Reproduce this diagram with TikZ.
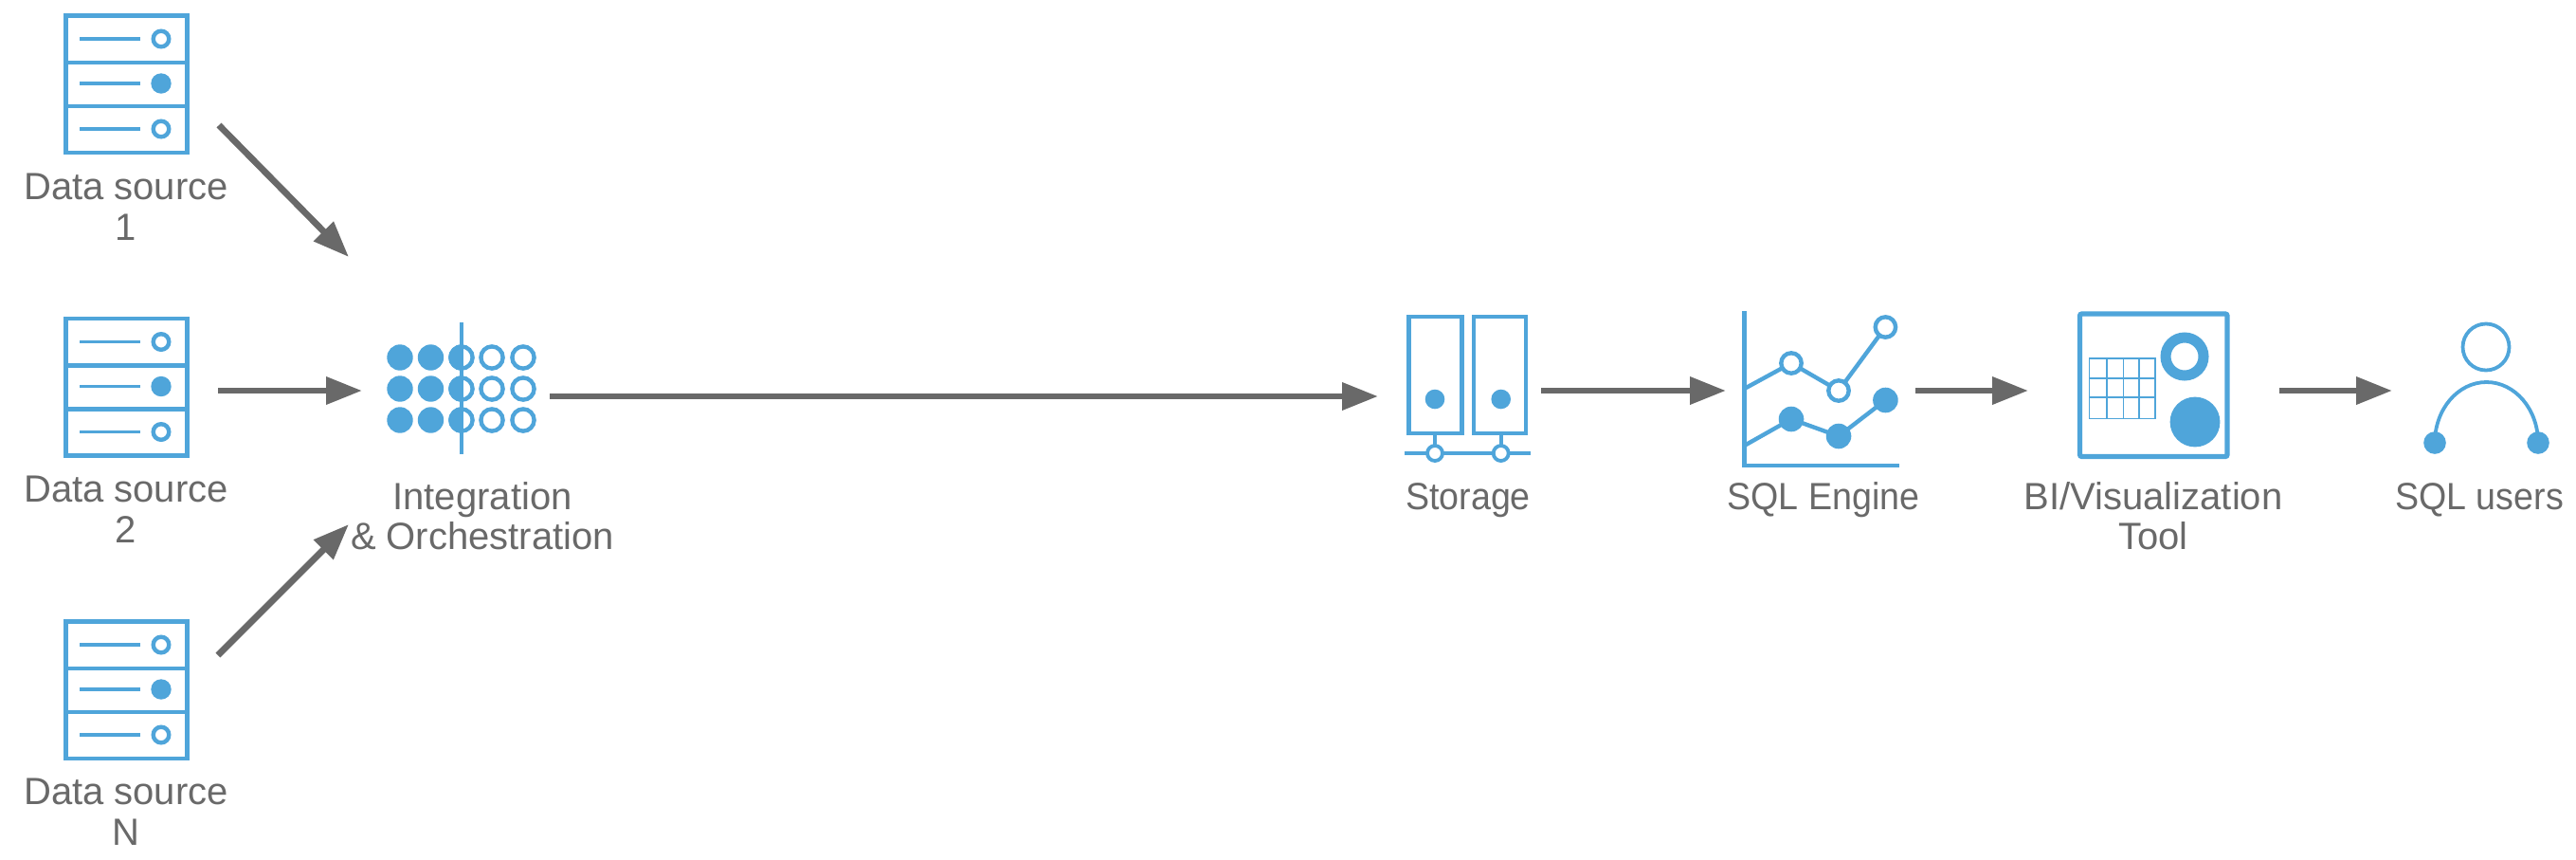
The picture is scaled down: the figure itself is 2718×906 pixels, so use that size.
\documentclass[tikz,border=0pt]{standalone}
\usepackage{fontspec}
\setmainfont{Liberation Sans}
\usetikzlibrary{arrows.meta}
\definecolor{iconblue}{HTML}{4FA5DA}
\definecolor{flowgray}{HTML}{696969}
\tikzset{
  x=0.5pt,y=-0.5pt,
  icon/.style={draw=iconblue,line width=2.2pt},
  thinicon/.style={draw=iconblue,line width=1.9pt},
  solid dot/.style={fill=iconblue},
  flow/.style={draw=flowgray,line width=3.4pt,-{Triangle[length=19pt,width=14pt]},color=flowgray},
  lbl/.style={text=flowgray,font=\fontsize{20}{21.5}\selectfont,align=center,inner sep=0pt,anchor=base},
  narrowlbl/.style={lbl,font=\fontsize{20}{21.5}\selectfont\addfontfeature{FakeStretch=0.94}},
  server/.pic={
    \draw[icon] (69.5,16.5) rectangle (197.5,161);
    \draw[icon] (69.5,66) -- (197.5,66) (69.5,112) -- (197.5,112);
    \draw[thinicon] (84,41) -- (148,41) (84,88) -- (148,88) (84,136) -- (148,136);
    \draw[icon,fill=white] (170,41) circle (8.3);
    \fill[solid dot] (170,88) circle (10.7);
    \draw[icon,fill=white] (170,136) circle (8.3);
  }
}
\begin{document}
\begin{tikzpicture}
\useasboundingbox (0,0) rectangle (2718,906);
% data sources
\pic (s1) at (0,0) {server};
\pic (s2) at (0,319.5) {server};
\pic (s3) at (0,639) {server};
\node[lbl] (t1) at (133,253) {Data source\\1};
\node[lbl] (t2) at (133,572) {Data source\\2};
\node[lbl] (t3) at (133,891) {Data source\\N};
% integration
\foreach \cy in {377,410,443}{
  \foreach \cx in {422,454.5}{\fill[solid dot] (\cx,\cy) circle (13.7);}
  \foreach \cx in {487,519,552}{\draw[icon,fill=white] (\cx,\cy) circle (11.6);}
  \begin{scope}
    \clip (470,\cy-15) rectangle (487,\cy+15);
    \fill[solid dot] (487,\cy) circle (13.7);
  \end{scope}
}
\draw[icon] (487,340) -- (487,479);
\node[lbl] (t4) at (509,537) {Integration};
\node[lbl] (t5) at (509,579) {\& Orchestration};
% storage
\draw[icon] (1486.5,334) rectangle (1542.5,457);
\draw[icon] (1555,334) rectangle (1610,457);
\fill[solid dot] (1514,421) circle (10.3);
\fill[solid dot] (1583.7,421) circle (10.3);
\draw[thinicon] (1514,457) -- (1514,478) (1583.7,457) -- (1583.7,478);
\draw[thinicon] (1482,478) -- (1615,478);
\draw[thinicon,fill=white] (1514,478) circle (8);
\draw[thinicon,fill=white] (1583.7,478) circle (8);
\node[narrowlbl] (t6) at (1549,537) {Storage};
% sql engine
\draw[icon] (1840.4,328) -- (1840.4,491) -- (2003.7,491);
\draw[icon] (1840.4,410) -- (1890,383) -- (1940,412) -- (1989.4,345);
\draw[icon] (1840.4,470) -- (1890,442) -- (1940,460) -- (1989.4,422);
\foreach \cx/\cy in {1890/383,1940/412,1989.4/345}{
  \draw[icon,fill=white] (\cx,\cy) circle (10.7);
}
\foreach \cx/\cy in {1890/442,1940/460,1989.4/422}{
  \fill[solid dot] (\cx,\cy) circle (13.3);
}
\node[narrowlbl] (t7) at (1924,537) {SQL Engine};
% BI tool
\draw[draw=iconblue,line width=2.6pt,rounded corners=1pt] (2194.5,331) rectangle (2350,481.5);
\draw[draw=iconblue,line width=0.9pt] (2204.5,378) rectangle (2274,441.5);
\draw[draw=iconblue,line width=0.9pt]
  (2222.8,378) -- (2222.8,441.5) (2240.4,378) -- (2240.4,441.5) (2257,378) -- (2257,441.5)
  (2204.5,399) -- (2274,399) (2204.5,419) -- (2274,419);
\draw[draw=iconblue,line width=5.5pt] (2305,376) circle (20);
\fill[solid dot] (2316,445) circle (26.4);
\node[lbl] (t8) at (2272,537) {BI/Visualization};
\node[lbl] (t9) at (2272,579) {Tool};
% users
\draw[draw=iconblue,line width=1.9pt] (2623,366) circle (24.5);
\draw[draw=iconblue,line width=1.9pt] (2569,467) arc[start angle=180,end angle=360,x radius=54.5,y radius=64];
\fill[solid dot] (2569,467) circle (11.8);
\fill[solid dot] (2678,467) circle (11.8);
\node[narrowlbl] (t10) at (2616,537) {SQL users};
% connector ends
\coordinate (a1s) at (231,132); \coordinate (a1e) at (368,271);
\coordinate (a2s) at (230,412); \coordinate (a2e) at (382,412);
\coordinate (a3s) at (230,691); \coordinate (a3e) at (368,553);
\coordinate (a4s) at (580,418); \coordinate (a4e) at (1454,418);
\coordinate (a5s) at (1626,412); \coordinate (a5e) at (1821,412);
\coordinate (a6s) at (2021,412); \coordinate (a6e) at (2140,412);
\coordinate (a7s) at (2405,412); \coordinate (a7e) at (2524,412);
\draw[flow] (a1s) -- (a1e);
\draw[flow] (a2s) -- (a2e);
\draw[flow] (a3s) -- (a3e);
\draw[flow] (a4s) -- (a4e);
\draw[flow] (a5s) -- (a5e);
\draw[flow] (a6s) -- (a6e);
\draw[flow] (a7s) -- (a7e);
\end{tikzpicture}
\end{document}
